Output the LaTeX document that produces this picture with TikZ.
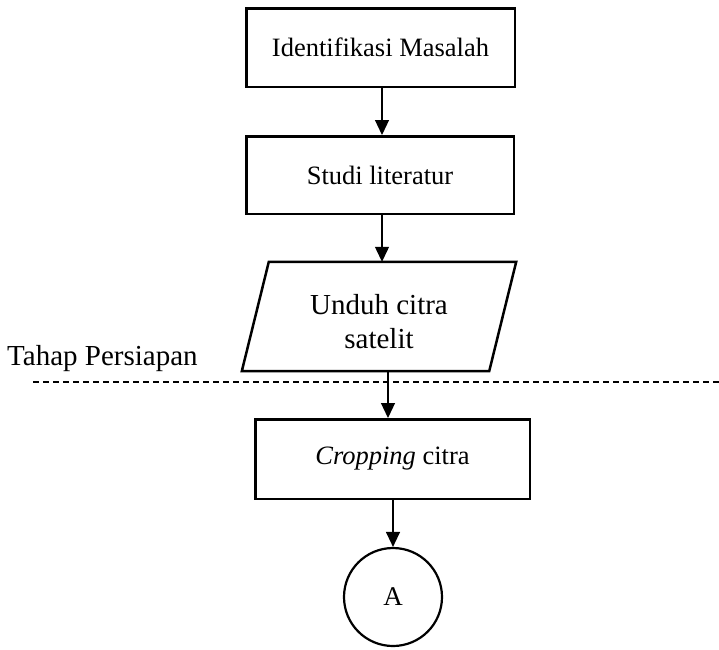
\documentclass[tikz,border=0pt]{standalone}
\usepackage{fontspec}
\setmainfont{Liberation Serif}
\usetikzlibrary{arrows.meta}
\begin{document}
\begin{tikzpicture}[x=1pt,y=-1pt,
  stepbox/.style={draw,line width=2.5pt,rectangle,inner sep=0pt,align=center,
    font=\fontsize{26.5}{31}\selectfont},
  databox/.style={rectangle,inner sep=0pt,align=center,
    minimum width=247pt,minimum height=109pt,font=\fontsize{29}{34}\selectfont},
  connector/.style={draw,circle,line width=2.2pt,minimum size=98pt,inner sep=0pt,
    font=\fontsize{27}{31}\selectfont},
  flow/.style={line width=1.2pt,-{Triangle[length=15pt,width=14pt]}},
  phase/.style={line width=1.3pt,dash pattern=on 6pt off 4pt}]
\useasboundingbox (0,0) rectangle (719,649);

% process steps
\node[stepbox,minimum width=268.5pt,minimum height=78.5pt] (ident) at (380.5,47.5) {Identifikasi Masalah};
\node[stepbox,minimum width=267.5pt,minimum height=77.5pt] (studi) at (380,175) {Studi literatur};
\node[databox] (unduh) at (379,316.5) {};
\node[inner sep=0pt,align=center,font=\fontsize{29}{34}\selectfont] (unduhtext)
  at ([yshift=-5pt]unduh.center) {Unduh citra\\satelit};
\draw[line width=2.5pt,line join=miter]
  ([xshift=13.5pt]unduh.north west) -- ([xshift=13.5pt]unduh.north east)
  -- ([xshift=-13.5pt]unduh.south east) -- ([xshift=-13.5pt]unduh.south west) -- cycle;
\node[stepbox,minimum width=274.5pt,minimum height=79.5pt] (crop) at (392.5,459) {\textit{Cropping} citra};
\node[connector] (conA) at (393,597) {A};

% phase boundary
\node[anchor=base west,inner sep=0pt,font=\fontsize{29}{34}\selectfont] (phaselabel) at (7,365) {Tahap Persiapan};
\coordinate (lineL) at (33,382);
\coordinate (lineR) at (719,382);
\draw[phase] (lineL) -- (lineR);

% flow arrows
\draw[flow] ([xshift=1.5pt]ident.south) -- ([xshift=1.5pt]ident.south |- studi.north);
\draw[flow] ([xshift=2pt]studi.south) -- ([xshift=2pt]studi.south |- unduh.north);
\draw[flow] ([xshift=-4.5pt]crop.north |- unduh.south) -- ([xshift=-4.5pt]crop.north);
\draw[flow] (crop.south -| conA.north) -- (conA.north);
\end{tikzpicture}
\end{document}
